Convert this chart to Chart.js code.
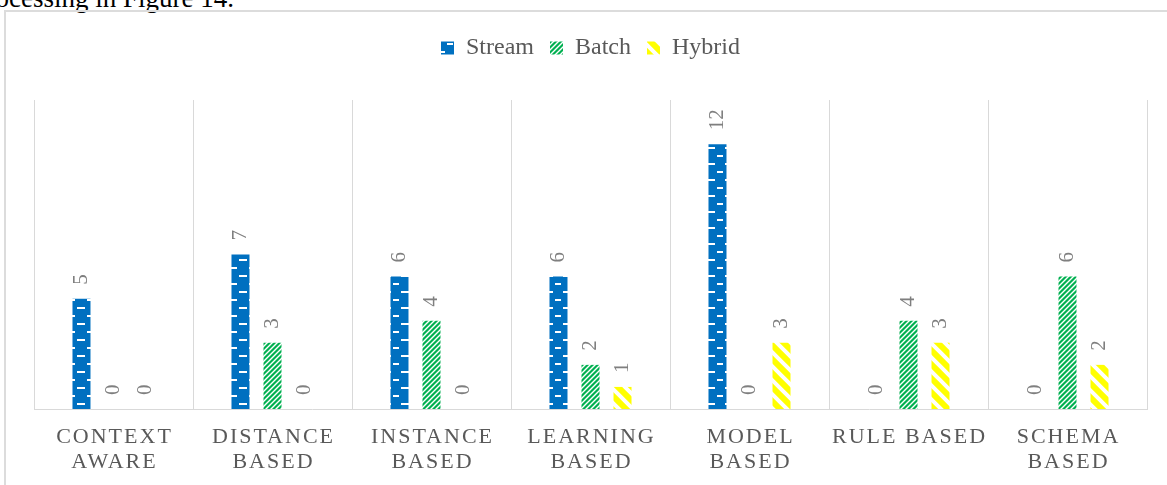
<!DOCTYPE html>
<html>
<head>
<meta charset="utf-8">
<script src="https://cdn.jsdelivr.net/npm/chart.js@4.4.1/dist/chart.umd.min.js"></script>
<style>
  html, body { margin: 0; padding: 0; background: #fff; overflow: hidden; }
  #pagina { position: relative; width: 1167px; height: 485px; overflow: hidden; }
  #texto { position: absolute; left: -27px; top: -15px; font: 27px/27px "Liberation Serif", serif; color: #000; white-space: nowrap; }
  #marco { position: absolute; left: 4px; top: 10px; width: 1200px; height: 520px; border: 2px solid #dcdcdc; box-sizing: border-box; }
  #grafico { position: absolute; left: 0; top: 0; }
</style>
</head>
<body>
<div id="pagina">
  <div id="texto">processing in Figure 14.</div>
  <div id="marco"></div>
  <canvas id="grafico" width="1167" height="485"></canvas>
</div>
<script>
const categorias = [
    ['CONTEXT', 'AWARE'],
    ['DISTANCE', 'BASED'],
    ['INSTANCE', 'BASED'],
    ['LEARNING', 'BASED'],
    ['MODEL', 'BASED'],
    ['RULE BASED'],
    ['SCHEMA', 'BASED']
];
const series = ['Stream', 'Batch', 'Hybrid'];
const valoresStream = [5, 7, 6, 6, 12, 0, 0];
const valoresBatch = [0, 3, 4, 2, 0, 4, 6];
const valoresHybrid = [0, 0, 0, 1, 3, 3, 2];

// patrones de relleno (como los de Excel)
function patronStream() {
    const c = document.createElement('canvas');
    c.width = 18; c.height = 16;
    const g = c.getContext('2d');
    g.fillStyle = '#0070C0';
    g.fillRect(0, 0, 18, 16);
    g.fillStyle = '#ffffff';
    g.fillRect(5, 3, 8, 2);
    g.fillRect(0, 11, 3, 2);
    g.fillRect(15, 11, 3, 2);
    return g.createPattern(c, 'repeat');
}

function patronBatch() {
    const c = document.createElement('canvas');
    c.width = 5; c.height = 5;
    const g = c.getContext('2d');
    g.fillStyle = '#00B050';
    g.fillRect(0, 0, 5, 5);
    g.strokeStyle = '#ffffff';
    g.lineWidth = 1.4;
    g.beginPath();
    g.moveTo(-1, 6); g.lineTo(6, -1);
    g.moveTo(-1, 1); g.lineTo(1, -1);
    g.moveTo(4, 6); g.lineTo(6, 4);
    g.stroke();
    return g.createPattern(c, 'repeat');
}

function patronHybrid() {
    const c = document.createElement('canvas');
    c.width = 14; c.height = 14;
    const g = c.getContext('2d');
    g.fillStyle = '#FFFF00';
    g.fillRect(0, 0, 14, 14);
    g.strokeStyle = '#ffffff';
    g.lineWidth = 4;
    g.beginPath();
    g.moveTo(-2, -2); g.lineTo(16, 16);
    g.moveTo(-2, 12); g.lineTo(2, 16);
    g.moveTo(12, -2); g.lineTo(16, 2);
    g.stroke();
    return g.createPattern(c, 'repeat');
}

// espacio extra debajo de la leyenda
const margenLeyenda = {
    id: 'margenLeyenda',
    beforeInit(chart) {
        if (!chart.legend) return;
        const fitOriginal = chart.legend.fit;
        chart.legend.fit = function () {
            fitOriginal.bind(chart.legend)();
            this.height += 30;
        };
    }
};

// valores girados encima de cada barra
const etiquetasValores = {
    id: 'etiquetasValores',
    afterDatasetsDraw(chart) {
        const ctx = chart.ctx;
        ctx.save();
        ctx.font = '21px "Liberation Serif"';
        ctx.fillStyle = '#7f7f7f';
        ctx.textAlign = 'left';
        ctx.textBaseline = 'middle';
        chart.data.datasets.forEach((ds, i) => {
            const meta = chart.getDatasetMeta(i);
            meta.data.forEach((barra, j) => {
                ctx.save();
                ctx.translate(barra.x, barra.y - 14);
                ctx.rotate(-Math.PI / 2);
                ctx.fillText(String(ds.data[j]), 0, 0);
                ctx.restore();
            });
        });
        ctx.restore();
    }
};

// etiquetas del eje x con espaciado entre letras
const etiquetasEje = {
    id: 'etiquetasEje',
    afterDraw(chart) {
        const ctx = chart.ctx;
        const ejeX = chart.scales.x;
        const base = chart.chartArea.bottom;
        ctx.save();
        ctx.font = '22px "Liberation Serif"';
        ctx.fillStyle = '#595959';
        ctx.textAlign = 'center';
        ctx.textBaseline = 'alphabetic';
        ctx.letterSpacing = '2px';
        categorias.forEach((lineas, i) => {
            const cx = ejeX.getPixelForValue(i) + 1;
            lineas.forEach((linea, k) => {
                ctx.fillText(linea, cx, base + 34 + k * 25);
            });
        });
        ctx.restore();
    }
};

const ctx = document.getElementById('grafico').getContext('2d');
new Chart(ctx, {
    type: 'bar',
    data: {
        labels: categorias.map(c => c.join(' ')),
        datasets: [{
            label: series[0],
            data: valoresStream,
            backgroundColor: patronStream(),
            borderWidth: 0
        }, {
            label: series[1],
            data: valoresBatch,
            backgroundColor: patronBatch(),
            borderWidth: 0
        }, {
            label: series[2],
            data: valoresHybrid,
            backgroundColor: patronHybrid(),
            borderWidth: 0
        }]
    },
    options: {
        responsive: false,
        animation: false,
        categoryPercentage: 0.604,
        barPercentage: 0.5625,
        layout: {
            padding: { left: 34, right: 20, top: 20, bottom: 76 }
        },
        plugins: {
            legend: {
                position: 'top',
                labels: {
                    boxWidth: 13,
                    boxHeight: 13,
                    padding: 16,
                    color: '#595959',
                    font: { family: 'Liberation Serif', size: 24 }
                }
            },
            tooltip: { enabled: false }
        },
        scales: {
            x: {
                grid: { color: '#d9d9d9', drawTicks: false, offset: true },
                border: { color: '#d9d9d9', width: 1 },
                ticks: { display: false }
            },
            y: {
                display: false,
                min: 0,
                max: 14
            }
        }
    },
    plugins: [margenLeyenda, etiquetasValores, etiquetasEje]
});
</script>
</body>
</html>
